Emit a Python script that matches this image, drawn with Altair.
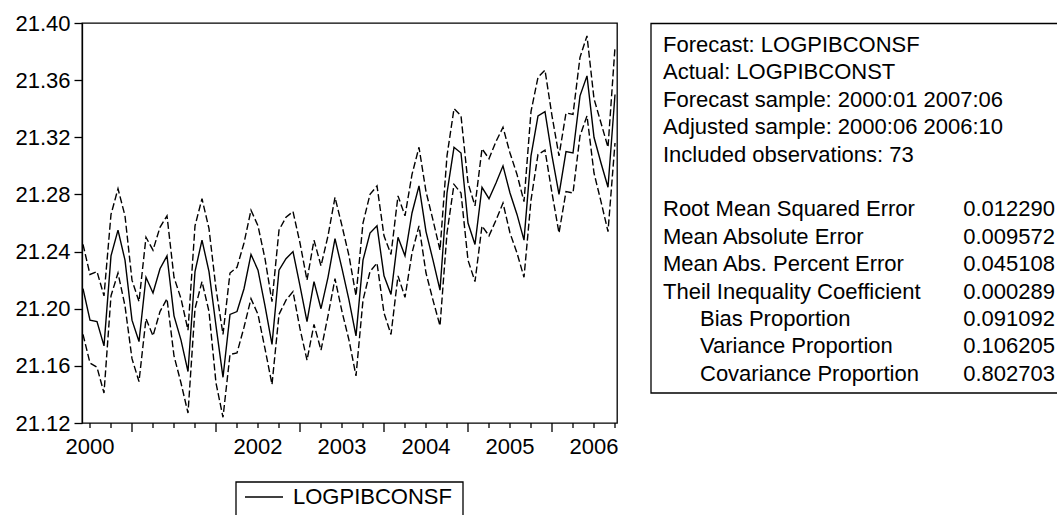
import altair as alt
import pandas as pd

# Static forecast of LOGPIBCONSF with +/- 2 S.E. band, monthly 2000:06 - 2006:10
first_month_index = 5  # months counted from 2000:01 = 0

forecast = [
    21.214, 21.192, 21.191, 21.174, 21.237, 21.255, 21.234, 21.192, 21.177, 21.222,
    21.211, 21.228, 21.237, 21.195, 21.178, 21.156, 21.226, 21.248, 21.226, 21.188,
    21.152, 21.196, 21.198, 21.214, 21.238, 21.227, 21.202, 21.175, 21.227, 21.235,
    21.240, 21.216, 21.191, 21.219, 21.200, 21.222, 21.249, 21.228, 21.206, 21.181,
    21.234, 21.253, 21.258, 21.223, 21.210, 21.250, 21.237, 21.267, 21.286, 21.254,
    21.234, 21.213, 21.281, 21.313, 21.309, 21.260, 21.245, 21.285, 21.277, 21.288,
    21.300, 21.281, 21.266, 21.248, 21.307, 21.335, 21.338, 21.307, 21.280, 21.310,
    21.309, 21.349, 21.363, 21.320, 21.302, 21.285, 21.350,
]
upper = [
    21.245, 21.224, 21.226, 21.209, 21.266, 21.284, 21.265, 21.220, 21.205, 21.250,
    21.241, 21.257, 21.265, 21.222, 21.207, 21.185, 21.258, 21.277, 21.256, 21.214,
    21.182, 21.225, 21.229, 21.246, 21.269, 21.258, 21.235, 21.205, 21.255, 21.264,
    21.268, 21.246, 21.220, 21.248, 21.230, 21.251, 21.278, 21.258, 21.237, 21.209,
    21.260, 21.280, 21.286, 21.251, 21.238, 21.279, 21.265, 21.294, 21.313, 21.282,
    21.262, 21.241, 21.307, 21.340, 21.335, 21.288, 21.272, 21.312, 21.305, 21.317,
    21.327, 21.309, 21.294, 21.275, 21.338, 21.362, 21.367, 21.335, 21.307, 21.337,
    21.336, 21.376, 21.391, 21.347, 21.330, 21.313, 21.383,
]
lower = [
    21.182, 21.162, 21.159, 21.141, 21.209, 21.225, 21.202, 21.165, 21.149, 21.193,
    21.181, 21.198, 21.207, 21.167, 21.148, 21.127, 21.200, 21.219, 21.198, 21.148,
    21.124, 21.168, 21.169, 21.187, 21.207, 21.196, 21.172, 21.147, 21.196, 21.206,
    21.212, 21.186, 21.164, 21.189, 21.171, 21.195, 21.221, 21.198, 21.178, 21.153,
    21.206, 21.226, 21.232, 21.197, 21.182, 21.223, 21.208, 21.239, 21.258, 21.225,
    21.206, 21.188, 21.253, 21.287, 21.281, 21.234, 21.219, 21.258, 21.251, 21.262,
    21.274, 21.253, 21.239, 21.222, 21.276, 21.308, 21.311, 21.281, 21.253, 21.282,
    21.281, 21.321, 21.335, 21.295, 21.275, 21.254, 21.316,
]

y_ticks = [21.12, 21.16, 21.20, 21.24, 21.28, 21.32, 21.36, 21.40]
year_labels = ["2000", "2002", "2003", "2004", "2005", "2006"]

info_lines = [
    "Forecast: LOGPIBCONSF",
    "Actual: LOGPIBCONST",
    "Forecast sample: 2000:01 2007:06",
    "Adjusted sample: 2000:06 2006:10",
    "Included observations: 73",
]
stat_names = [
    "Root Mean Squared Error",
    "Mean Absolute Error",
    "Mean Abs. Percent Error",
    "Theil Inequality Coefficient",
    "Bias Proportion",
    "Variance Proportion",
    "Covariance Proportion",
]
stat_values = ["0.012290", "0.009572", "0.045108", "0.000289",
               "0.091092", "0.106205", "0.802703"]
stat_indented = [False, False, False, False, True, True, True]

FONT = "Liberation Sans"
FS = 22
W, H = 535, 400
LW = 1.3
DATA_LW = 1.4
DASH = [7, 3]

n = len(forecast)
df = pd.DataFrame({
    "t": [first_month_index + i for i in range(n)],
    "forecast": forecast,
    "upper": upper,
    "lower": lower,
})

x_scale = alt.Scale(domain=[first_month_index - 1 / 7, first_month_index + n - 1 + 2 / 7],
                    nice=False, zero=False)
y_scale = alt.Scale(domain=[y_ticks[0], y_ticks[-1]], nice=False, zero=False)
X = alt.X("t:Q", scale=x_scale, axis=None)

y_axis = alt.Axis(values=y_ticks, format=".2f", title=None, grid=False,
                  labelFont=FONT, labelFontSize=FS, labelColor="black",
                  labelPadding=4, tickSize=8, tickColor="black", tickWidth=LW,
                  domainColor="black", domainWidth=LW, labelOverlap=False)

base = alt.Chart(df)
line_f = base.mark_line(color="black", strokeWidth=DATA_LW).encode(
    x=X, y=alt.Y("forecast:Q", scale=y_scale, axis=y_axis))
line_u = base.mark_line(color="black", strokeWidth=DATA_LW, strokeDash=DASH).encode(
    x=X, y=alt.Y("upper:Q", scale=y_scale))
line_l = base.mark_line(color="black", strokeWidth=DATA_LW, strokeDash=DASH).encode(
    x=X, y=alt.Y("lower:Q", scale=y_scale))

# quarterly tick marks, longer at each January
last_t = first_month_index + n - 1
quarter_t = [m for m in range(first_month_index, last_t + 1) if m % 3 == 0]
minor_df = pd.DataFrame({"t": [m for m in quarter_t if m % 12 != 0]})
major_df = pd.DataFrame({"t": [m for m in quarter_t if m % 12 == 0]})
minor_ticks = alt.Chart(minor_df).mark_rule(color="black", strokeWidth=LW).encode(
    x=X, y=alt.value(H), y2=alt.value(H + 5))
major_ticks = alt.Chart(major_df).mark_rule(color="black", strokeWidth=LW).encode(
    x=X, y=alt.value(H), y2=alt.value(H + 9))

# year labels sit mid-year (July)
year_df = pd.DataFrame({
    "label": year_labels,
    "t": [(int(y) - 2000) * 12 + 6 for y in year_labels],
})
year_text = alt.Chart(year_df).mark_text(
    font=FONT, fontSize=FS, color="black", align="center", baseline="middle"
).encode(x=X, y=alt.value(H + 24), text="label:N")

layers = [line_u, line_l, line_f, minor_ticks, major_ticks, year_text]

# statistics box to the right of the plot
BOX_L, BOX_T, BOX_B = 569, 0.5, 370
TXT_L, TXT_IND, VAL_R = 581, 618, 973
ROW0, ROW_STEP = 22, 27.4
one = pd.DataFrame({"k": [0]})
layers.append(alt.Chart(one).mark_rect(fill=None, stroke="black", strokeWidth=LW).encode(
    x=alt.value(BOX_L), x2=alt.value(BOX_L + 500), y=alt.value(BOX_T), y2=alt.value(BOX_B)))

rows = [(txt, None, False) for txt in info_lines] + [("", None, False)] + \
       list(zip(stat_names, stat_values, stat_indented))
for k, (name, val, ind) in enumerate(rows):
    if not name:
        continue
    yk = ROW0 + ROW_STEP * k
    layers.append(alt.Chart(pd.DataFrame({"s": [name]})).mark_text(
        font=FONT, fontSize=FS, color="black", align="left", baseline="middle"
    ).encode(x=alt.value(TXT_IND if ind else TXT_L), y=alt.value(yk), text="s:N"))
    if val is not None:
        layers.append(alt.Chart(pd.DataFrame({"s": [val]})).mark_text(
            font=FONT, fontSize=FS, color="black", align="right", baseline="middle"
        ).encode(x=alt.value(VAL_R), y=alt.value(yk), text="s:N"))

# legend box below the plot
LEG_L, LEG_R, LEG_T, LEG_Y = 154, 381, 459, 474
layers.append(alt.Chart(one).mark_rect(fill=None, stroke="black", strokeWidth=LW).encode(
    x=alt.value(LEG_L), x2=alt.value(LEG_R), y=alt.value(LEG_T), y2=alt.value(LEG_T + 80)))
layers.append(alt.Chart(one).mark_rule(color="black", strokeWidth=LW).encode(
    x=alt.value(163), x2=alt.value(201), y=alt.value(LEG_Y)))
layers.append(alt.Chart(pd.DataFrame({"s": ["LOGPIBCONSF"]})).mark_text(
    font=FONT, fontSize=FS, color="black", align="left", baseline="middle"
).encode(x=alt.value(211), y=alt.value(LEG_Y), text="s:N"))

chart = alt.layer(*layers).properties(
    width=W, height=H,
    autosize=alt.AutoSizeParams(type="none"),
    padding={"left": 82, "top": 23, "right": 1057 - 82 - W, "bottom": 515 - 23 - H},
    background="white",
).configure_view(stroke="black", strokeWidth=LW)

chart.save("out.html", embed_options={"renderer": "svg", "actions": False})
